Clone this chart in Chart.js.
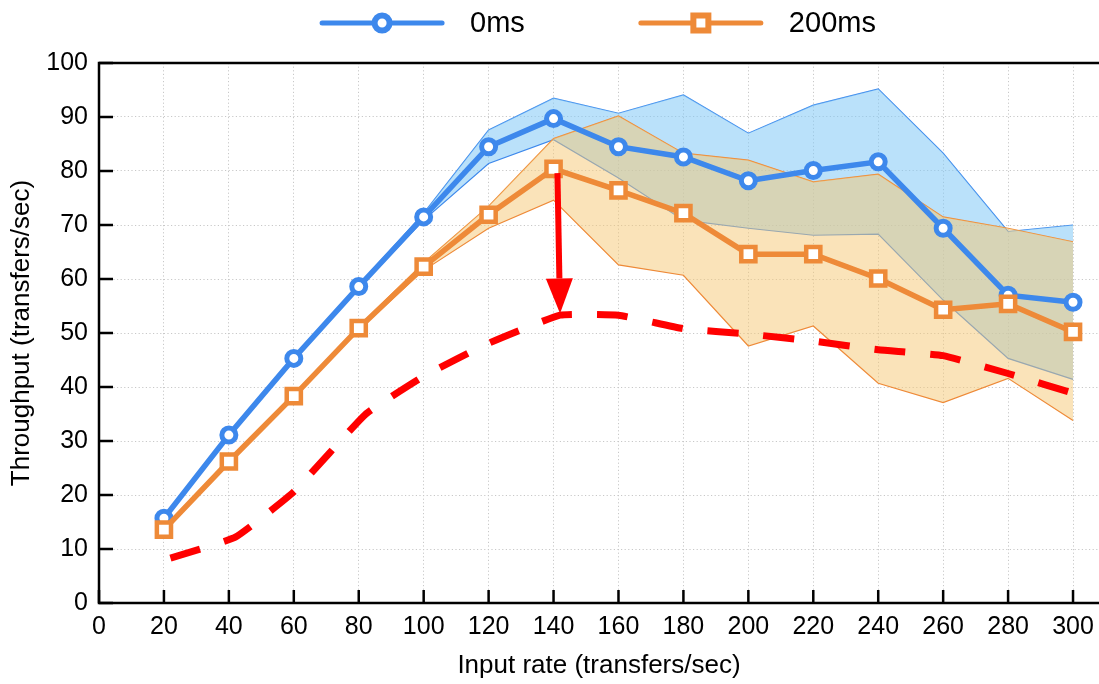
<!DOCTYPE html>
<html>
<head>
<meta charset="utf-8">
<script src="https://cdn.jsdelivr.net/npm/chart.js@4.4.1/dist/chart.umd.min.js"></script>
<style>
  html, body { margin: 0; padding: 0; background: #fff; }
  #wrap { width: 1099px; height: 684px; }
</style>
</head>
<body>
<div id="wrap"><canvas id="throughputChart" width="1099" height="684"></canvas></div>
<script>
// data
const inputRates = [20, 40, 60, 80, 100, 120, 140, 160, 180, 200, 220, 240, 260, 280, 300];
const seriesNames = ['0ms', '200ms'];

const tput0ms   = [15.7, 31.1, 45.3, 58.6, 71.5, 84.5, 89.7, 84.5, 82.6, 78.2, 80.1, 81.7, 69.4, 57.0, 55.7];
const upper0ms  = [15.9, 31.3, 45.5, 58.9, 72.2, 87.6, 93.5, 90.7, 94.1, 87.0, 92.2, 95.2, 83.3, 68.8, 70.0];
const lower0ms  = [15.5, 30.9, 45.1, 58.3, 70.9, 81.4, 85.8, 78.7, 70.9, 69.4, 68.1, 68.3, 56.1, 45.3, 41.4];

const tput200ms  = [13.6, 26.2, 38.3, 50.9, 62.3, 71.9, 80.4, 76.4, 72.2, 64.6, 64.6, 60.1, 54.3, 55.4, 50.2];
const upper200ms = [13.9, 26.5, 38.6, 51.2, 63.0, 73.5, 86.0, 90.2, 83.3, 82.0, 78.0, 79.4, 71.5, 69.4, 66.9];
const lower200ms = [13.3, 25.9, 38.0, 50.6, 61.6, 69.4, 74.6, 62.6, 60.7, 47.6, 51.3, 40.7, 37.1, 41.6, 33.8];

// red dashed reference curve
const refX = [22, 42, 60, 82, 100, 120, 142, 160, 180, 200, 220, 240, 260, 280, 303];
const refY = [8.3, 12.2, 20.6, 34.9, 42.0, 48.1, 53.3, 53.3, 50.8, 49.8, 48.5, 46.9, 45.8, 42.5, 38.3];

// arrow from the 200ms peak down to the dashed curve
const arrowFrom = { x: 141.2, y: 79.6 };
const arrowTo   = { x: 142.0, y: 53.6 };

const xTicks = [0, 20, 40, 60, 80, 100, 120, 140, 160, 180, 200, 220, 240, 260, 280, 300];
const yTicks = [0, 10, 20, 30, 40, 50, 60, 70, 80, 90, 100];

const FONT = "'Liberation Sans', Arial, Helvetica, sans-serif";
const BLUE = '#3d88ec';
const ORANGE = '#ee8a38';
const RED = '#ff0000';

function pts(xs, ys) {
    return xs.map((x, i) => ({ x: x, y: ys[i] }));
}

// axis frame + inward tick marks
const framePlugin = {
    id: 'frame',
    beforeDatasetsDraw(chart) {
        const { ctx, chartArea: a, scales } = chart;
        ctx.save();
        ctx.strokeStyle = '#000';
        ctx.lineWidth = 2.5;
        ctx.beginPath();
        ctx.moveTo(a.right, a.top);
        ctx.lineTo(a.left, a.top);
        ctx.lineTo(a.left, a.bottom);
        ctx.lineTo(a.right, a.bottom);
        ctx.stroke();
        ctx.beginPath();
        yTicks.forEach(v => {
            const py = scales.y.getPixelForValue(v);
            ctx.moveTo(a.left, py);
            ctx.lineTo(a.left + 14, py);
        });
        xTicks.forEach(v => {
            const px = scales.x.getPixelForValue(v);
            ctx.moveTo(px, a.bottom);
            ctx.lineTo(px, a.bottom - 13);
        });
        ctx.stroke();
        ctx.restore();
    }
};

const arrowPlugin = {
    id: 'arrow',
    afterDatasetsDraw(chart) {
        const { ctx, scales } = chart;
        const x1 = scales.x.getPixelForValue(arrowFrom.x);
        const y1 = scales.y.getPixelForValue(arrowFrom.y);
        const x2 = scales.x.getPixelForValue(arrowTo.x);
        const y2 = scales.y.getPixelForValue(arrowTo.y);
        const headLen = 35, headHalf = 13.5;
        const ang = Math.atan2(y2 - y1, x2 - x1);
        const bx = x2 - headLen * Math.cos(ang);
        const by = y2 - headLen * Math.sin(ang);
        ctx.save();
        ctx.strokeStyle = RED;
        ctx.fillStyle = RED;
        ctx.lineWidth = 6;
        ctx.beginPath();
        ctx.moveTo(x1, y1);
        ctx.lineTo(bx, by);
        ctx.stroke();
        ctx.beginPath();
        ctx.moveTo(x2, y2);
        ctx.lineTo(bx + headHalf * Math.sin(ang), by - headHalf * Math.cos(ang));
        ctx.lineTo(bx - headHalf * Math.sin(ang), by + headHalf * Math.cos(ang));
        ctx.closePath();
        ctx.fill();
        ctx.restore();
    }
};

// legend: line with marker, then label
const legendPlugin = {
    id: 'lineLegend',
    afterDraw(chart) {
        const { ctx, chartArea: a } = chart;
        const colors = [BLUE, ORANGE];
        const lineLen = 120, textGap = 28, itemGap = 116, y = 23;
        ctx.save();
        ctx.font = '29px ' + FONT;
        const widths = seriesNames.map(t => ctx.measureText(t).width);
        let total = itemGap * (seriesNames.length - 1);
        widths.forEach(w => { total += lineLen + textGap + w; });
        let x = (a.left + a.right) / 2 - total / 2;
        seriesNames.forEach((name, i) => {
            ctx.strokeStyle = colors[i];
            ctx.lineWidth = 5;
            ctx.lineCap = 'round';
            ctx.beginPath();
            ctx.moveTo(x, y);
            ctx.lineTo(x + lineLen, y);
            ctx.stroke();
            const mx = x + lineLen / 2;
            ctx.fillStyle = '#fff';
            ctx.lineWidth = 6;
            ctx.beginPath();
            if (i === 0) {
                ctx.arc(mx, y, 7.5, 0, Math.PI * 2);
            } else {
                ctx.rect(mx - 7.5, y - 7.5, 15, 15);
            }
            ctx.fill();
            ctx.stroke();
            ctx.fillStyle = '#000';
            ctx.textBaseline = 'middle';
            ctx.textAlign = 'left';
            ctx.fillText(name, x + lineLen + textGap, y + 1);
            x += lineLen + textGap + widths[i] + itemGap;
        });
        ctx.restore();
    }
};

function bandLine(ys, color, order, fill, bg) {
    return {
        data: pts(inputRates, ys),
        borderColor: color,
        borderWidth: 1.2,
        pointRadius: 0,
        tension: 0,
        fill: fill,
        backgroundColor: bg,
        order: order
    };
}

const ctx = document.getElementById('throughputChart').getContext('2d');

new Chart(ctx, {
    type: 'line',
    data: {
        datasets: [
            bandLine(upper0ms, BLUE, 10, false, 'transparent'),
            bandLine(lower0ms, BLUE, 9, '-1', 'rgba(130, 200, 245, 0.55)'),
            bandLine(upper200ms, ORANGE, 8, false, 'transparent'),
            bandLine(lower200ms, ORANGE, 7, '-1', 'rgba(245, 200, 115, 0.5)'),
            {
                data: pts(refX, refY),
                borderColor: RED,
                borderWidth: 7,
                borderDash: [31, 25],
                borderCapStyle: 'butt',
                pointRadius: 0,
                tension: 0.12,
                fill: false,
                order: 3
            },
            {
                label: seriesNames[0],
                data: pts(inputRates, tput0ms),
                borderColor: BLUE,
                borderWidth: 5.5,
                pointStyle: 'circle',
                pointRadius: 7,
                pointBorderWidth: 5,
                pointBackgroundColor: '#fff',
                pointBorderColor: BLUE,
                tension: 0,
                fill: false,
                order: 2
            },
            {
                label: seriesNames[1],
                data: pts(inputRates, tput200ms),
                borderColor: ORANGE,
                borderWidth: 5.5,
                pointStyle: 'rect',
                pointRadius: 10,
                pointBorderWidth: 4.5,
                pointBackgroundColor: '#fff',
                pointBorderColor: ORANGE,
                tension: 0,
                fill: false,
                order: 1
            }
        ]
    },
    options: {
        responsive: false,
        animation: false,
        layout: { autoPadding: false, padding: { top: 63, right: 0, bottom: 0, left: 0 } },
        plugins: {
            legend: { display: false },
            tooltip: { enabled: false }
        },
        scales: {
            x: {
                type: 'linear',
                min: 0,
                max: 308,
                afterBuildTicks: s => { s.ticks = xTicks.map(v => ({ value: v })); },
                afterFit: s => { s.height = 81; s.paddingLeft = 0; s.paddingRight = 0; },
                grid: { color: '#c8c8c8', lineWidth: 1, drawTicks: false },
                border: { display: false, dash: [1.2, 2.4] },
                ticks: {
                    padding: 9,
                    color: '#000',
                    autoSkip: false,
                    maxRotation: 0,
                    font: { family: FONT, size: 25 }
                },
                title: {
                    display: true,
                    text: 'Input rate (transfers/sec)',
                    color: '#000',
                    font: { family: FONT, size: 26 },
                    padding: { top: 0, bottom: 3 }
                }
            },
            y: {
                min: 0,
                max: 100,
                afterBuildTicks: s => { s.ticks = yTicks.map(v => ({ value: v })); },
                afterFit: s => { s.width = 99; s.paddingTop = 0; s.paddingBottom = 0; },
                grid: { color: '#c8c8c8', lineWidth: 1, drawTicks: false },
                border: { display: false, dash: [1.2, 2.4] },
                ticks: {
                    padding: 11,
                    color: '#000',
                    font: { family: FONT, size: 25 }
                },
                title: {
                    display: true,
                    text: 'Throughput (transfers/sec)',
                    color: '#000',
                    font: { family: FONT, size: 26 },
                    padding: { top: 6, bottom: 0 }
                }
            }
        }
    },
    plugins: [framePlugin, arrowPlugin, legendPlugin]
});
</script>
</body>
</html>
